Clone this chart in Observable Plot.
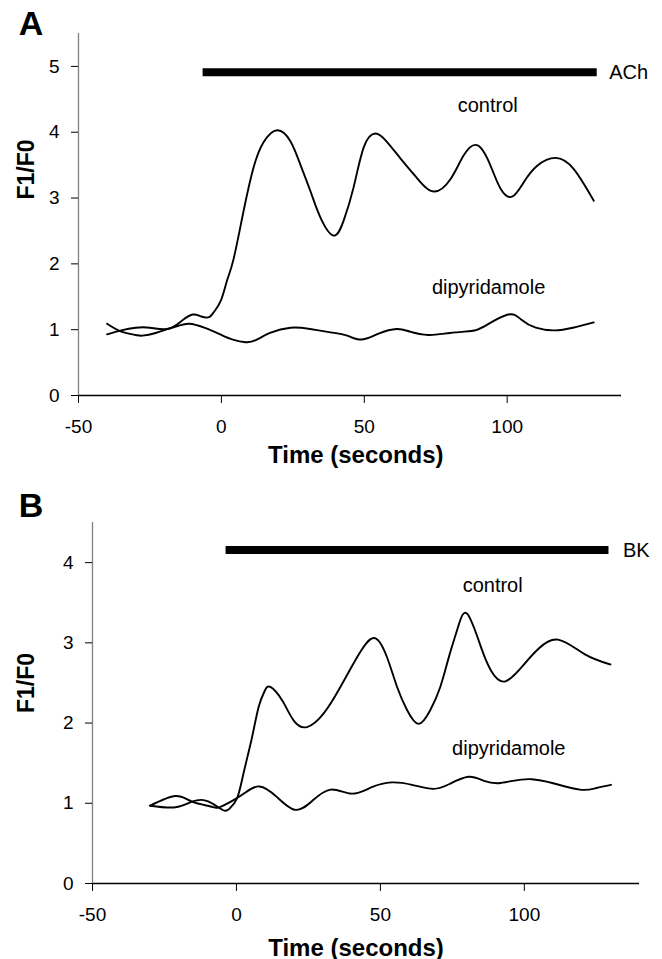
<!DOCTYPE html>
<html>
<head>
<meta charset="utf-8">
<script src="https://cdn.jsdelivr.net/npm/d3@7"></script>
<script src="https://cdn.jsdelivr.net/npm/@observablehq/plot@0.6"></script>
<style>
  html, body { margin: 0; padding: 0; background: #fff; }
  #wrap { width: 662px; height: 959px; position: relative; overflow: hidden; }
  #wrap svg { display: block; }
</style>
</head>
<body>
<div id="wrap"></div>
<script>
// ---- data (time in seconds, F1/F0) ----
const xTicks = [-50, 0, 50, 100];
const yTicksA = [0, 1, 2, 3, 4, 5];
const yTicksB = [0, 1, 2, 3, 4];

const controlA = [
  [-40, 0.93], [-35, 0.99], [-30, 1.03], [-25, 1.03], [-18.9, 1.01], [-14, 1.13],
  [-10.1, 1.23], [-7, 1.20], [-4.3, 1.19], [-2.6, 1.27], [-0.2, 1.44], [2, 1.75],
  [4.3, 2.08], [7.8, 2.81], [11.3, 3.47], [14.8, 3.85], [19.5, 4.03], [24.2, 3.86],
  [27.7, 3.50], [31.2, 3.10], [34.7, 2.70], [39.3, 2.43], [42.8, 2.66], [46.3, 3.17],
  [49.8, 3.77], [53.9, 3.98], [58, 3.85], [62.7, 3.60], [68.5, 3.30], [74.3, 3.10],
  [80.2, 3.29], [84.8, 3.65], [89.7, 3.80], [94.2, 3.49], [97.7, 3.14], [101.7, 3.02],
  [105.8, 3.24], [110.5, 3.49], [116.9, 3.61], [123.3, 3.44], [130.3, 2.96]
];
const dipyA = [
  [-40, 1.09], [-35, 0.97], [-30, 0.92], [-27.6, 0.91], [-23, 0.95], [-18.9, 1.01],
  [-15, 1.06], [-11.3, 1.09], [-6, 1.03], [0, 0.92], [4, 0.85], [8.5, 0.81],
  [12, 0.84], [17, 0.95], [24.2, 1.03], [31, 1.01], [38.2, 0.96], [44, 0.91],
  [49, 0.85], [55, 0.94], [61.3, 1.01], [66, 0.97], [72.4, 0.92], [80, 0.95],
  [87.5, 0.98], [92, 1.05], [100.3, 1.23], [105, 1.15], [110, 1.03], [116.6, 0.99],
  [123, 1.03], [130.3, 1.11]
];
const controlB = [
  [-30, 0.97], [-21.2, 0.95], [-15.4, 1.02], [-11.4, 1.04], [-8, 0.99], [-4.4, 0.91],
  [-2.5, 0.93], [0.2, 1.06], [2.5, 1.38], [5.4, 1.82], [7.7, 2.20], [9.8, 2.40],
  [11.8, 2.45], [15.9, 2.28], [19.9, 2.03], [24.5, 1.95], [30.3, 2.12], [36.1, 2.45],
  [41.9, 2.82], [47.7, 3.06], [52.3, 2.82], [55.8, 2.45], [59.3, 2.16], [63.3, 1.99],
  [67.3, 2.16], [70.8, 2.45], [74, 2.85], [77, 3.20], [80.2, 3.36], [85, 2.94],
  [88.5, 2.65], [93.4, 2.52], [100.1, 2.74], [105, 2.93], [111.7, 3.04], [120.9, 2.86],
  [129.9, 2.73]
];
const dipyB = [
  [-30, 0.97], [-21.2, 1.09], [-15.4, 1.02], [-9, 0.96], [-6, 0.95], [-1, 1.04],
  [3, 1.13], [8, 1.21], [14, 1.08], [20.2, 0.92], [26, 1.02], [32.7, 1.17],
  [40, 1.12], [47, 1.20], [53.9, 1.26], [61, 1.23], [68.4, 1.18], [74, 1.24],
  [80.6, 1.33], [86, 1.28], [91, 1.25], [96, 1.28], [102.5, 1.30], [110, 1.25],
  [119.3, 1.17], [125, 1.19], [130.1, 1.23]
];
const agonistA = [{name: "ACh", start: -6.4, end: 131.5, level: 4.912}];
const agonistB = [{name: "BK", start: -3.6, end: 129.4, level: 4.156}];
const seriesLabelsA = [
  {text: "control", x: 93.2, y: 4.30},
  {text: "dipyridamole", x: 93.5, y: 1.545}
];
const seriesLabelsB = [
  {text: "control", x: 89.0, y: 3.63},
  {text: "dipyridamole", x: 94.6, y: 1.605}
];

const FONT = "'Liberation Sans', Arial, Helvetica, sans-serif";

function panel(o) {
  return Plot.plot({
    width: 662,
    height: o.height,
    marginTop: o.mt, marginBottom: o.mb, marginLeft: o.ml, marginRight: o.mr,
    style: {fontFamily: FONT, fontSize: "19px", color: "black", background: "white", overflow: "visible"},
    x: {domain: [-50, 140]},
    y: {domain: o.yDomain},
    marks: [
      Plot.ruleX([-50], {stroke: "#808080", strokeWidth: 1.3}),
      Plot.ruleY([0], {stroke: "black", strokeWidth: 1.3}),
      Plot.axisX({ticks: xTicks, tickSize: 8, tickPadding: 16, fontSize: 19, label: null, tickFormat: d => d}),
      Plot.axisY({ticks: o.yTicks, tickSize: 7, tickPadding: 12, fontSize: 19, label: null, tickFormat: d => d}),
      Plot.line(o.control, {x: d => d[0], y: d => d[1], curve: "natural", stroke: "black", strokeWidth: 1.9}),
      Plot.line(o.dipy, {x: d => d[0], y: d => d[1], curve: "natural", stroke: "black", strokeWidth: 1.9}),
      Plot.ruleY(o.agonist, {y: "level", x1: "start", x2: "end", stroke: "black", strokeWidth: 8}),
      Plot.text(o.agonist, {x: "end", y: "level", text: "name", textAnchor: "start", dx: o.agDx, fontSize: 20, fill: "black"}),
      Plot.text(o.labels, {x: "x", y: "y", text: "text", lineAnchor: "bottom", fontSize: 20, fill: "black"}),
      Plot.text(["Time (seconds)"], {frameAnchor: "bottom", lineAnchor: "bottom", dx: o.xlDx, dy: o.xlDy, fontSize: 24, fontWeight: "bold", fill: "black"}),
      Plot.text(["F1/F0"], {frameAnchor: "left", lineAnchor: "bottom", rotate: -90, dx: o.ylDx, dy: o.ylDy, fontSize: 23, fontWeight: "bold", fill: "black"}),
      Plot.text([o.letter], {frameAnchor: "top-left", textAnchor: "start", lineAnchor: "bottom", dx: o.lDx, dy: o.lDy, fontSize: 34, fontWeight: "bold", fill: "black"})
    ]
  });
}

const wrap = document.getElementById("wrap");
wrap.appendChild(panel({
  letter: "A", height: 480, mt: 33, mb: 85, ml: 78, mr: 41,
  yDomain: [0, 5.5], yTicks: yTicksA,
  control: controlA, dipy: dipyA, agonist: agonistA, labels: seriesLabelsA,
  agDx: 12, xlDx: 5.8, xlDy: 67.7, ylDx: -45, ylDy: -15, lDx: -59.7, lDy: 1.3
}));
wrap.appendChild(panel({
  letter: "B", height: 479, mt: 42, mb: 76, ml: 92, mr: 23,
  yDomain: [0, 4.5], yTicks: yTicksB,
  control: controlB, dipy: dipyB, agonist: agonistB, labels: seriesLabelsB,
  agDx: 14, xlDx: -10, xlDy: 72, ylDx: -59, ylDy: 10, lDx: -73.7, lDy: -5.3
}));
</script>
</body>
</html>
